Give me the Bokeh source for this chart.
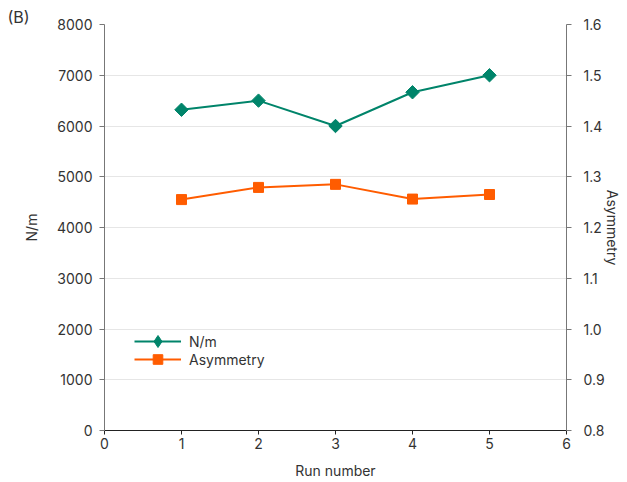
import math
from bokeh.plotting import figure
from bokeh.models import Range1d, LinearAxis, FixedTicker, NumeralTickFormatter, ColumnDataSource, LegendItem, Legend
from bokeh.embed import file_html
from bokeh.resources import INLINE

runs = [1, 2, 3, 4, 5]
nm_values = [6320, 6500, 6000, 6665, 7000]
asym_values = [1.255, 1.279, 1.285, 1.256, 1.265]
x_ticks = [0, 1, 2, 3, 4, 5, 6]
left_ticks = [0, 1000, 2000, 3000, 4000, 5000, 6000, 7000, 8000]
right_ticks = [0.8, 0.9, 1.0, 1.1, 1.2, 1.3, 1.4, 1.5, 1.6]

GREEN = "#00846a"
ORANGE = "#ff5c00"
FONT = "Inter"
TXT = "#333333"

p = figure(width=627, height=482, x_range=Range1d(0, 6), y_range=Range1d(0, 8000),
           output_backend="svg", toolbar_location=None,
           min_border_left=104, min_border_right=61, min_border_top=24, min_border_bottom=52)
p.outline_line_color = None
p.background_fill_color = "white"

p.title.text = "(B)"
p.title.align = "left"
p.title.offset = -97
p.title.standoff = -4
p.title.text_font = FONT
p.title.text_font_size = "16px"
p.title.text_font_style = "normal"
p.title.text_color = TXT

p.extra_y_ranges = {"asym": Range1d(0.8, 1.6)}

# axes
p.xaxis.ticker = FixedTicker(ticks=x_ticks)
p.yaxis.ticker = FixedTicker(ticks=left_ticks)
p.xaxis.axis_label = "Run number"
p.yaxis.axis_label = "N/m"

right = LinearAxis(y_range_name="asym", ticker=FixedTicker(ticks=right_ticks),
                   formatter=NumeralTickFormatter(format="0.0"), axis_label="Asymmetry")
p.add_layout(right, "right")

for ax in [p.xaxis[0], p.yaxis[0], right]:
    ax.minor_tick_line_color = None
    ax.major_tick_in = 0
    ax.major_tick_out = 5
    ax.major_label_text_font = FONT
    ax.major_label_text_font_size = "14px"
    ax.major_label_text_color = TXT
    ax.axis_label_text_font = FONT
    ax.axis_label_text_font_size = "14px"
    ax.axis_label_text_font_style = "normal"
    ax.axis_label_text_color = TXT
    ax.major_tick_line_color = "#444444"
    ax.axis_line_color = "#444444"

p.xaxis.axis_line_color = "#222222"
p.xaxis.major_tick_line_color = "#222222"
p.xaxis.major_tick_out = 4
p.xaxis.major_label_standoff = 3
p.xaxis.axis_label_standoff = 10
p.yaxis.axis_line_color = "#777777"
p.yaxis.major_tick_line_color = "#777777"
p.yaxis.major_label_standoff = 7
p.yaxis.axis_label_standoff = 14
right.major_label_standoff = 12
right.axis_label_standoff = -4

p.xgrid.grid_line_color = None
p.ygrid.ticker = FixedTicker(ticks=left_ticks)
p.ygrid.grid_line_color = "#e6e6e6"
p.ygrid.grid_line_width = 1

# series
nm_line = p.line(runs, nm_values, line_color=GREEN, line_width=2)
p.scatter(runs, nm_values, marker="square", angle=math.pi / 4, size=9.5,
          fill_color=GREEN, line_color=GREEN)
as_line = p.line(runs, asym_values, line_color=ORANGE, line_width=2, y_range_name="asym")
as_pts = p.scatter(runs, asym_values, marker="square", size=10, fill_color=ORANGE, line_color=ORANGE,
                   y_range_name="asym")

# legend-only diamond key (a rotated square is drawn unrotated in legends)
key_src = ColumnDataSource(data=dict(x=[float("nan")], y=[float("nan")]))
nm_key = p.scatter("x", "y", source=key_src, marker="diamond", fill_color=GREEN, line_color=GREEN)


def make_legend(item, loc, gh):
    lg = Legend(items=[item])
    lg.location = loc
    lg.border_line_color = None
    lg.background_fill_alpha = 0
    lg.padding = 0
    lg.margin = 0
    lg.spacing = 0
    lg.glyph_width = 47
    lg.glyph_height = gh
    lg.label_height = gh
    lg.label_standoff = 8
    lg.label_text_font = FONT
    lg.label_text_font_size = "14px"
    lg.label_text_color = TXT
    p.add_layout(lg, "center")


make_legend(LegendItem(label="N/m", renderers=[nm_line, nm_key]), (30, 74), 30)
make_legend(LegendItem(label="Asymmetry", renderers=[as_line, as_pts]), (30, 59), 24)

open("out.html", "w").write(file_html(p, INLINE))
